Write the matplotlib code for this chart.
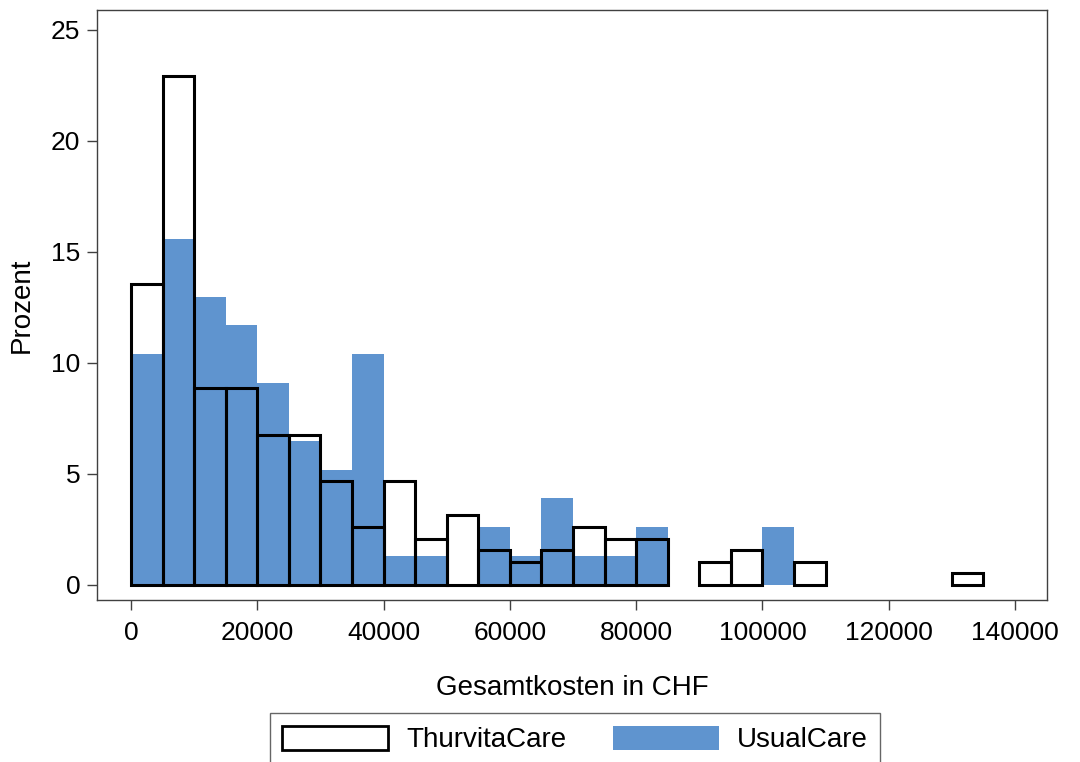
import numpy as np
import matplotlib
matplotlib.use('Agg')
import matplotlib.pyplot as plt
import matplotlib.patches as mpatches

plt.rcParams['font.family'] = ['Liberation Sans', 'DejaVu Sans']

# Bins: 5000 CHF width, left edges 0 .. 130000
bin_width = 5000
bin_left = np.arange(0, 135000, bin_width)

# Percent per bin (ThurvitaCare n=192, UsualCare n=77)
thurvita_pct = [13.54, 22.92, 8.85, 8.85, 6.77, 6.77, 4.69, 2.60, 4.69, 2.08,
                3.13, 1.56, 1.04, 1.56, 2.60, 2.08, 2.08, 0.00, 1.04, 1.56,
                0.00, 1.04, 0.00, 0.00, 0.00, 0.00, 0.52]
usual_pct = [10.39, 15.58, 12.99, 11.69, 9.09, 6.49, 5.19, 10.39, 1.30, 1.30,
             0.00, 2.60, 1.30, 3.90, 1.30, 1.30, 2.60, 0.00, 0.00, 0.00,
             2.60, 0.00, 0.00, 0.00, 0.00, 0.00, 0.00]

labels = ["ThurvitaCare", "UsualCare"]
blue = '#5f94cf'

fig = plt.figure(figsize=(10.8, 7.62), dpi=100)
ax = fig.add_axes([97/1080, 1 - 600/762, (1047-97)/1080, (600-10)/762])

u = np.array(usual_pct)
t = np.array(thurvita_pct)
mu = u > 0
mt = t > 0
ax.bar(bin_left[mu], u[mu], width=bin_width, align='edge', color=blue,
       edgecolor='none', zorder=2)
ax.bar(bin_left[mt], t[mt], width=bin_width, align='edge', facecolor='none',
       edgecolor='black', linewidth=2.2, zorder=3)

ax.set_xlim(-5385, 145070)
ax.set_ylim(-0.68, 25.9)
ax.set_xticks(np.arange(0, 140001, 20000))
ax.set_xticklabels([str(v) for v in range(0, 140001, 20000)])
ax.set_yticks(np.arange(0, 26, 5))
ax.tick_params(axis='both', direction='out', length=7, width=1, color='#404040',
               labelsize=19, pad=5)
ax.tick_params(axis='x', pad=8)
for s in ax.spines.values():
    s.set_color('#404040')
    s.set_linewidth(1)

ax.set_xlabel("Gesamtkosten in CHF", fontsize=20, labelpad=22)
ax.set_ylabel("Prozent", fontsize=20, labelpad=12)

handles = [mpatches.Patch(facecolor='white', edgecolor='black', linewidth=2, label=labels[0]),
           mpatches.Patch(facecolor=blue, edgecolor='none', label=labels[1])]
leg = fig.legend(handles=handles, loc='upper center', bbox_to_anchor=(575/1080, 1 - 713/762),
                 ncol=2, fontsize=20, frameon=True, fancybox=False, handlelength=3.8,
                 handleheight=1.0, handletextpad=0.65, columnspacing=1.7,
                 borderpad=0.45, borderaxespad=0)
leg.get_frame().set_edgecolor('#404040')
leg.get_frame().set_linewidth(1)

fig.savefig('out.png', dpi=100)
